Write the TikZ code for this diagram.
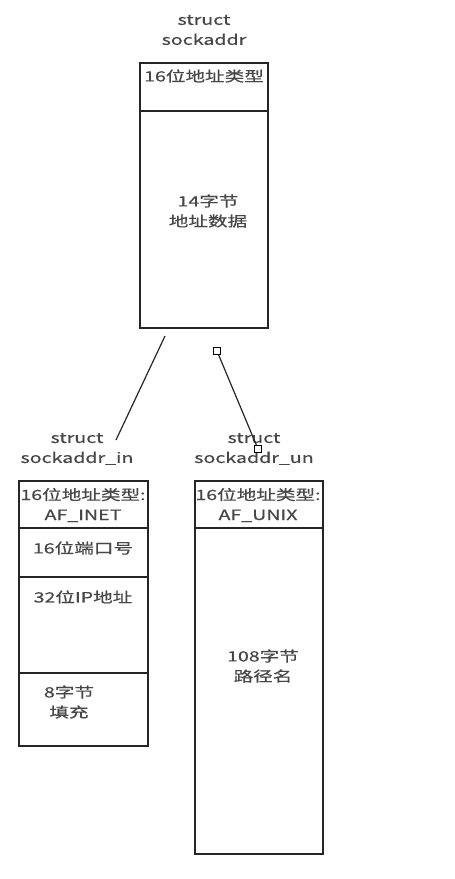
\documentclass[tikz,border=0pt]{standalone}
\usepackage{fontspec}
\newfontfamily\cjk[FakeStretch=1.38,FakeBold=0.6]{Noto Sans CJK SC}
\begin{document}
\begin{tikzpicture}[x=1pt,y=1pt,
  box/.style={draw=black!85, line width=1.8pt, fill=none},
  sep/.style={draw=black!85, line width=1.6pt},
  txt/.style={font=\cjk\fontsize{14.2}{20}\selectfont, text=black!72, align=center, inner sep=0pt},
  conn/.style={draw=black!85, line width=1.2pt},
  sq/.style={draw=black, fill=white, line width=1pt, minimum size=7pt, inner sep=0pt}]
\useasboundingbox (0,0) rectangle (455,-879);
% top struct
\node[txt] (lt) at (204,-30) {struct\\sockaddr};
\node[box, minimum width=128pt, minimum height=265pt, anchor=north west] (top) at (139,-62) {};
\draw[sep] (139,-111) -- (267,-111);
\node[txt] (t1) at (204,-76) {16位地址类型};
\node[txt] (t2) at (208,-211) {14字节\\地址数据};
% left struct
\node[txt] (ll) at (77,-449) {struct\\sockaddr\_in};
\node[box, minimum width=129pt, minimum height=265pt, anchor=north west] (lbox) at (18,-480) {};
\draw[sep] (18,-528) -- (147,-528);
\draw[sep] (18,-577) -- (147,-577);
\draw[sep] (18,-673) -- (147,-673);
\node[txt] (l1) at (83,-505) {16位地址类型:\\AF\_INET};
\node[txt] (l2) at (83,-548) {16位端口号};
\node[txt] (l3) at (83,-597) {32位IP地址};
\node[txt] (l4) at (69,-702) {8字节\\填充};
% right struct
\node[txt] (rl) at (254,-449) {struct\\sockaddr\_un};
\node[box, minimum width=128pt, minimum height=373pt, anchor=north west] (rbox) at (194,-480) {};
\draw[sep] (194,-528) -- (322,-528);
\node[txt] (r1) at (258,-505) {16位地址类型:\\AF\_UNIX};
\node[txt] (r2) at (263,-666) {108字节\\路径名};
% connectors
\coordinate (a1) at (165,-336);
\coordinate (a2) at (116,-440);
\draw[conn] (a1) -- (a2);
\node[sq] (s1) at (217,-351) {};
\node[sq] (s2) at (258,-449) {};
\draw[conn] (s1) -- (s2);
\end{tikzpicture}
\end{document}
